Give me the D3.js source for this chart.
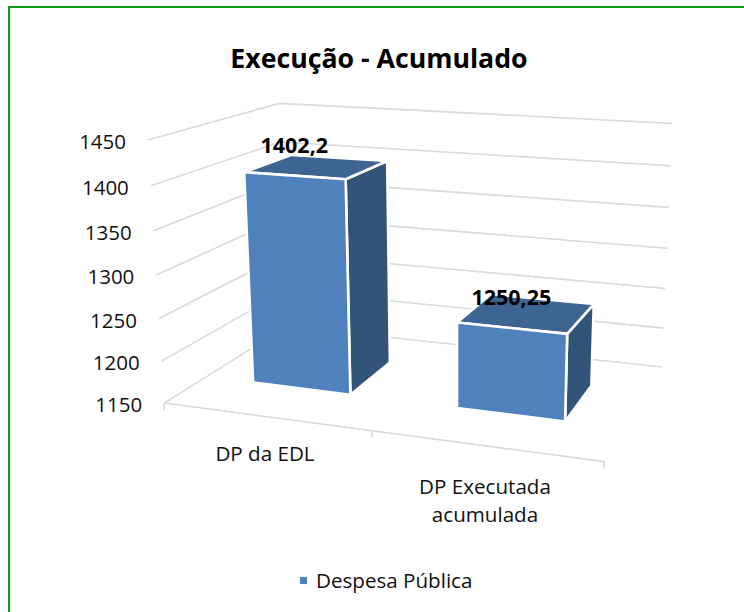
<!DOCTYPE html><html><body style="margin:0;background:#fff"><svg id="c" width="744" height="612" style="display:block"></svg><script src="https://cdn.jsdelivr.net/npm/d3@7"></script><script>
const categories=["DP da EDL","DP Executada acumulada"];
const catLines=[["DP da EDL"],["DP Executada","acumulada"]];
const values=[1402.2,1250.25];
const valueLabels=["1402,2","1250,25"];
const yTicks=[1150,1200,1250,1300,1350,1400,1450];
const seriesName="Despesa Pública";
const title="Execução - Acumulado";
const camera=[376.0987,-23.9975,177.0335,164.2119,9.7817,-270.5152,-15.0559,403.0720,-0.1056,-0.0528,0.1894];
const font='"Open Sans",sans-serif';
const proj=(u,v,w)=>{const p=camera,d=p[8]*u+p[9]*v+p[10]*w+1;return[(p[0]*u+p[1]*v+p[2]*w+p[3])/d,(p[4]*u+p[5]*v+p[6]*w+p[7])/d]};
const svg=d3.select("#c");
svg.append("path").attr("d","M9,612V7H744").attr("fill","none").attr("stroke","#0f9d18").attr("stroke-width",2);
const yS=d3.scaleLinear().domain([1150,1450]).range([0,1]);
const xS=d3.scaleBand().domain(categories).range([-0.005,0.999]).paddingInner(0.51).paddingOuter(0.255);
const line=d3.line();
const g=svg.append("g").attr("fill","none").attr("stroke","#d9d9d9").attr("stroke-width",1.6);
yTicks.forEach(t=>{const v=yS(t);g.append("path").attr("d",line([proj(0,v,0),proj(0,v,1),proj(1,v,1)]));});
g.append("path").attr("d",line([proj(0,0,0),proj(1,0,0)]));
[0,0.5,1].forEach(u=>{const a=proj(u,0,0);g.append("path").attr("d",line([a,[a[0],a[1]+7]]));});
yTicks.forEach(t=>{const a=proj(0,yS(t),0);svg.append("text").attr("x",a[0]-22).attr("y",a[1]+9).attr("text-anchor","end").attr("font-family",font).attr("font-size",20.5).attr("fill","#111").text(t);});
const w0=0.305,w1=0.695;
categories.forEach((c,i)=>{
 const u0=xS(c),u1=u0+xS.bandwidth(),v=yS(values[i]);
 const face=(pts,f)=>svg.append("path").attr("d",line(pts)+"Z").attr("fill",f).attr("stroke","#fff").attr("stroke-width",2.6).attr("stroke-linejoin","round");
 face([proj(u1,0,w0),proj(u1,0,w1),proj(u1,v,w1),proj(u1,v,w0)],"#335479");
 face([proj(u0,v,w0),proj(u1,v,w0),proj(u1,v,w1),proj(u0,v,w1)],"#3e6491");
 face([proj(u0,0,w0),proj(u1,0,w0),proj(u1,v,w0),proj(u0,v,w0)],"#4f81bd");
});
categories.forEach((c,i)=>{
 const u0=xS(c),u1=u0+xS.bandwidth(),a=proj((u0+u1)/2,yS(values[i]),w0);
 svg.append("text").attr("x",a[0]).attr("y",a[1]-23).attr("text-anchor","middle").attr("font-family",font).attr("font-weight",700).attr("font-size",21.5).attr("fill","#000").text(valueLabels[i]);
});
svg.append("text").attr("x",379).attr("y",68).attr("text-anchor","middle").attr("font-family",font).attr("font-weight",700).attr("font-size",26.7).attr("fill","#000").text(title);
categories.forEach((c,i)=>{
 catLines[i].forEach((t,k)=>svg.append("text").attr("x",i?485:265).attr("y",(i?494:461)+k*28).attr("text-anchor","middle").attr("font-family",font).attr("font-size",20.6).attr("fill","#111").text(t));
});
svg.append("rect").attr("x",300).attr("y",577).attr("width",7).attr("height",7).attr("fill","#4f81bd");
svg.append("text").attr("x",316).attr("y",588).attr("font-family",font).attr("font-size",20.6).attr("fill","#111").text(seriesName);
</script></body></html>
